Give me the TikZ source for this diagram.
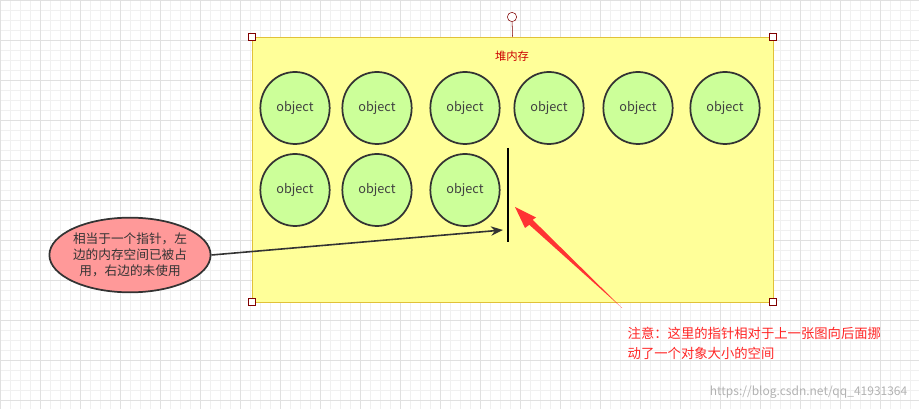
\documentclass[tikz,border=0pt]{standalone}
\usepackage{fontspec}
\setmainfont{Noto Sans CJK SC}
\usetikzlibrary{shapes.geometric,arrows.meta}
\definecolor{objg}{HTML}{CCFF99}
\definecolor{heapy}{HTML}{FFFF99}
\begin{document}
\begin{tikzpicture}[x=0.75pt,y=-0.75pt,
 obj/.style={draw=black!80,line width=1.3pt,fill=objg,ellipse,minimum width=52pt,minimum height=54pt,inner sep=0pt,font=\fontsize{9.5}{10}\selectfont,text=black!75},
 handle/.style={draw=red!50!black,fill=white,minimum size=5pt,inner sep=0pt}]
\useasboundingbox (0,0) rectangle (919,409);
\fill[white] (0,0) rectangle (919,409);
\draw[black!6,line width=0.4pt] (0,0) grid[step=7.5pt] (919,409);
\draw[black!12,line width=0.5pt] (0,0) grid[step=30pt] (919,409);
\node[draw=yellow!50!brown,fill=heapy,minimum width=390.75pt,minimum height=198.75pt,inner sep=0pt] (heap) at (512.5,169.5) {};
\node[text=red!80!black,font=\fontsize{8.5}{10}\selectfont] (title) at (512,56) {堆内存};
\foreach \x/\n in {295/a,377/b,465/c,549/d,638/e,725/f} \node[obj] (r1\n) at (\x,108) {object};
\foreach \x/\n in {295/a,377/b,465/c} \node[obj] (r2\n) at (\x,190) {object};
\coordinate (pt) at (508,148); \coordinate (pb) at (508,242);
\draw[black,line width=1.5pt] (pt) -- (pb);
\node[draw=black!80,line width=1.3pt,fill=red!40,ellipse,minimum width=112pt,minimum height=56pt,inner sep=0pt,align=center,font=\fontsize{9.5}{12}\selectfont,text=black!80] (note) at (130,255) {相当于一个指针，左\\边的内存空间已被占\\用，右边的未使用};
\coordinate (tip) at (503,230);
\draw[black!80,line width=1.2pt,-{Stealth[length=9pt,width=7pt]}] (note.east) -- (tip);
\fill[red!80!white] (622,308) -- (529.3,224.8) -- (525,228) -- (515,207) -- (536,217.5) -- (532.7,219.8) -- cycle;
\node[handle] (h1) at (252,37) {};
\node[handle] (h2) at (773,37) {};
\node[handle] (h3) at (252,302) {};
\node[handle] (h4) at (773,302) {};
\node[draw=red!50!black,fill=white,circle,minimum size=7pt,inner sep=0pt] (rot) at (512,17) {};
\draw[red!50!black] (rot) -- (heap.north);
\node[text=red!85!white,align=left,anchor=north west,font=\fontsize{10}{15}\selectfont] (warn) at (623,322) {注意：这里的指针相对于上一张图向后面挪\\动了一个对象大小的空间};
\node[text=black!30,anchor=south east,font=\fontsize{9}{10}\selectfont] (wm) at (912,403) {https://blog.csdn.net/qq\_41931364};
\end{tikzpicture}
\end{document}
